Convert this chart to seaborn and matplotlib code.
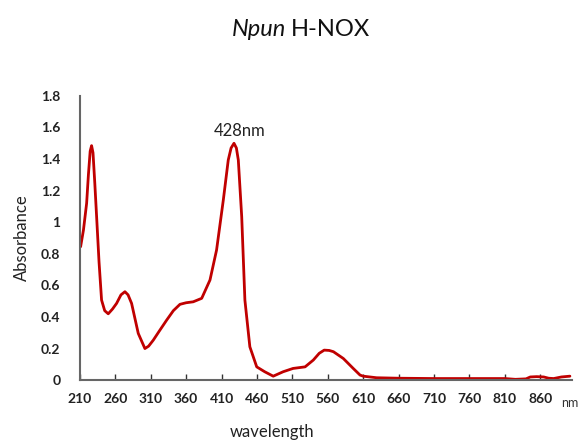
import matplotlib
matplotlib.use("Agg")
import matplotlib.pyplot as plt
import seaborn as sns
import pandas as pd

wavelength = [211, 215, 219.5, 222, 224.5, 226.5, 228.5, 231, 233.6, 237, 240.6, 245, 250, 256, 261.8, 268, 273.6, 278, 283,
              292.4, 301.8, 307, 313.6, 322, 332.5, 342, 351.3, 360, 370, 382, 393.7, 403, 412.5, 419.5, 423.5,
              427.6, 431, 433.7, 438.5, 443, 450, 459.7, 471, 483, 497, 511, 528, 539.6, 548, 555, 562, 568, 582,
              596, 605.6, 610, 629, 660, 710, 760, 810, 825, 840, 846, 855, 865, 872, 879, 890, 902]
absorbance = [0.845, 0.95, 1.12, 1.30, 1.45, 1.485, 1.44, 1.25, 1.035, 0.75, 0.507, 0.44, 0.42, 0.45, 0.486, 0.54, 0.56, 0.54, 0.486,
              0.296, 0.20, 0.215, 0.253, 0.31, 0.38, 0.44, 0.48, 0.49, 0.496, 0.518, 0.634, 0.824, 1.14, 1.394, 1.47,
              1.50, 1.47, 1.394, 1.035, 0.507, 0.211, 0.084, 0.053, 0.025, 0.053, 0.074, 0.084, 0.127, 0.17, 0.19, 0.188, 0.18, 0.137,
              0.074, 0.032, 0.025, 0.015, 0.012, 0.01, 0.01, 0.01, 0.005, 0.008, 0.02, 0.022, 0.02, 0.012, 0.01, 0.02, 0.025]

xticks = [210, 260, 310, 360, 410, 460, 510, 560, 610, 660, 710, 760, 810, 860]
yticks = [0, 0.2, 0.4, 0.6, 0.8, 1.0, 1.2, 1.4, 1.6, 1.8]
ytick_labels = ["0", "0.2", "0.4", "0.6", "0.8", "1", "1.2", "1.4", "1.6", "1.8"]

sns.set_theme(style="white")
plt.rcParams['font.family'] = ['Lato', 'DejaVu Sans']

df = pd.DataFrame({"wavelength": wavelength, "absorbance": absorbance})

fig = plt.figure(figsize=(5.79, 4.42), dpi=100)
ax = fig.add_axes([0.138, 0.140, 0.850, 0.643])
sns.lineplot(data=df, x="wavelength", y="absorbance", ax=ax, color="#c00000", linewidth=2)

ax.set_xlim(210, 905)
ax.set_ylim(0, 1.8)
ax.set_xticks(xticks)
ax.set_xticklabels([str(t) for t in xticks], fontsize=10, fontweight="bold", color="#222222")
ax.set_yticks(yticks)
ax.set_yticklabels(ytick_labels, fontsize=10, fontweight="bold", color="#222222")
ax.tick_params(axis="x", direction="in", length=4, width=1, color="#333333", pad=9, bottom=True)
ax.tick_params(axis="y", length=0, pad=14)
ax.set_xlabel("")
ax.set_ylabel("Absorbance", fontsize=12, color="#222222", labelpad=8)

for s in ["top", "right"]:
    ax.spines[s].set_visible(False)
for s in ["left", "bottom"]:
    ax.spines[s].set_color("#666666")
    ax.spines[s].set_linewidth(1.5)

ax.text(436, 1.53, "428nm", ha="center", va="bottom", fontsize=12, color="#222222")

fig.text(570 / 579, 1 - 403 / 442, "nm", ha="center", va="center", fontsize=9, color="#333333")
fig.text(272 / 579, 1 - 432 / 442, "wavelength", ha="center", va="center", fontsize=12, color="#222222")

fig.text(0.494, 1 - 30 / 442, "Npun", ha="right", va="center", fontsize=17, style="italic", color="#111111")
fig.text(0.503, 1 - 30 / 442, "H-NOX", ha="left", va="center", fontsize=17, color="#111111")

fig.savefig("out.png", dpi=100)
